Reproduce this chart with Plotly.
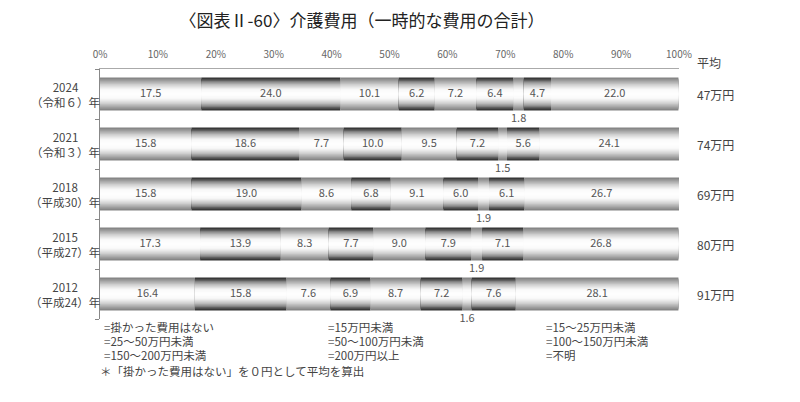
import numpy as np
import plotly.graph_objects as go

# 데이터
years = ["2024", "2021", "2018", "2015", "2012"]
year_labels = ["2024<br>（令和６）年", "2021<br>（令和３）年", "2018<br>（平成30）年",
               "2015<br>（平成27）年", "2012<br>（平成24）年"]
categories = ["掛かった費用はない", "15万円未満", "15～25万円未満",
              "25～50万円未満", "50～100万円未満", "100～150万円未満",
              "150～200万円未満", "200万円以上", "不明"]
v_none = [17.5, 15.8, 15.8, 17.3, 16.4]
v_lt15 = [24.0, 18.6, 19.0, 13.9, 15.8]
v_15_25 = [10.1, 7.7, 8.6, 8.3, 7.6]
v_25_50 = [6.2, 10.0, 6.8, 7.7, 6.9]
v_50_100 = [7.2, 9.5, 9.1, 9.0, 8.7]
v_100_150 = [6.4, 7.2, 6.0, 7.9, 7.2]
v_150_200 = [1.8, 1.5, 1.9, 1.9, 1.6]
v_200plus = [4.7, 5.6, 6.1, 7.1, 7.6]
v_unknown = [22.0, 24.1, 26.7, 26.8, 28.1]
averages = ["47万円", "74万円", "69万円", "80万円", "91万円"]
x_ticks = [0, 10, 20, 30, 40, 50, 60, 70, 80, 90, 100]

values = [v_none, v_lt15, v_15_25, v_25_50, v_50_100, v_100_150,
          v_150_200, v_200plus, v_unknown]
vals = np.array(values)
bases = np.vstack([np.zeros(len(years)), np.cumsum(vals, axis=0)[:-1]])
ypos = np.arange(len(years))

FONT = "Noto Sans CJK JP"
TXT = "#444444"
BAR_W = 0.66
N_LAYERS = 14

# 플롯 영역 (페이지 body margin 8px 보정)
OFF = 8
W, H = 800, 402
L, T = 100 - OFF, 69 - OFF
PW, PH = 579, 250
R, B = W - L - PW, H - T - PH

def px_x(px):
    return (px - OFF - L) / PW

def px_y(py):
    return (T + PH - (py - OFF)) / PH

# 그라데이션 (위/아래 어둡고 가운데 흰색)
def grey(d, dark):
    if dark:
        g = np.interp(d, [0, 0.25, 0.5, 0.7, 0.85, 1.0], [255, 248, 205, 150, 85, 40])
    else:
        g = np.interp(d, [0, 0.25, 0.5, 0.75, 1.0], [255, 250, 220, 170, 125])
    g = int(round(g))
    return f"rgb({g},{g},{g})"

fig = go.Figure()

for c, name in enumerate(categories):
    dark = c % 2 == 1
    for k in range(N_LAYERS):
        d = 1 - (k + 0.5) / N_LAYERS
        fig.add_trace(go.Bar(
            orientation="h",
            x=vals[c], y=ypos, base=bases[c],
            width=BAR_W * (1 - k / N_LAYERS),
            marker=dict(color=grey(d, dark), line=dict(width=0)),
            name=name, legendgroup=name, showlegend=False,
            hoverinfo="skip" if k else "x+name",
        ))

# 값 라벨 (150~200만엔 미만은 막대 아래)
mids = bases + vals / 2
for c in range(len(categories)):
    below = c == 6
    fig.add_trace(go.Scatter(
        x=mids[c], y=ypos + (0.5 if below else 0),
        mode="text", text=[f"{v:.1f}" for v in vals[c]],
        textfont=dict(family=FONT, size=11, color="#555555"),
        cliponaxis=False, showlegend=False, hoverinfo="skip",
    ))

# 연도 라벨 / 평균
for i in range(len(years)):
    fig.add_annotation(x=px_x(65), y=ypos[i], xref="paper", yref="y",
                       xanchor="center", yanchor="middle", text=year_labels[i],
                       showarrow=False, align="center",
                       font=dict(family=FONT, size=11.5, color=TXT))
    fig.add_annotation(x=px_x(715), y=ypos[i], xref="paper", yref="y",
                       xanchor="center", yanchor="middle", text=averages[i],
                       showarrow=False, font=dict(family=FONT, size=12, color=TXT))
fig.add_annotation(x=px_x(709), y=px_y(63), xref="paper", yref="paper",
                   xanchor="center", yanchor="middle", text="平均", showarrow=False,
                   font=dict(family=FONT, size=12, color=TXT))

# 범례 (3열, 행 간격이 좁아서 높이 고정)
col_x = [103, 327, 545]
row_y = [327, 341, 355]
for i, name in enumerate(categories):
    fig.add_annotation(x=px_x(col_x[i % 3]), y=px_y(row_y[i // 3]),
                       xref="paper", yref="paper", xanchor="left", yanchor="middle",
                       text="<span style='color:#666666'>=</span>" + name,
                       height=14, borderpad=0, showarrow=False,
                       font=dict(family=FONT, size=11.5, color=TXT))
fig.add_annotation(x=px_x(99), y=px_y(371), xref="paper", yref="paper",
                   xanchor="left", yanchor="middle",
                   text="＊「掛かった費用はない」を０円として平均を算出",
                   height=14, borderpad=0, showarrow=False,
                   font=dict(family=FONT, size=11.5, color=TXT))

fig.update_layout(
    title=dict(text="〈図表Ⅱ-60〉介護費用（一時的な費用の合計）",
               x=(362 - OFF) / W, xanchor="center",
               y=1 - (21 - OFF) / H, yanchor="middle",
               font=dict(family=FONT, size=17, color="#222222")),
    barmode="overlay",
    width=W, height=H,
    margin=dict(l=L, r=R, t=T, b=B, autoexpand=False),
    paper_bgcolor="white", plot_bgcolor="white",
    font=dict(family=FONT, size=11, color=TXT),
    showlegend=False,
    xaxis=dict(range=[0, 100], side="top", tickvals=x_ticks,
               ticktext=[f"{t}%" for t in x_ticks], showgrid=False,
               zeroline=False, showline=True, linecolor="#aaaaaa",
               ticks="", ticklabelstandoff=6,
               tickfont=dict(family=FONT, size=10, color="#666666")),
    yaxis=dict(range=[4.5, -0.5], tickvals=np.arange(-0.5, 5, 1.0),
               showticklabels=False, ticks="outside", ticklen=4,
               tickcolor="#888888", showgrid=False, zeroline=False,
               showline=True, linecolor="#888888"),
)

fig.write_html("out.html")
